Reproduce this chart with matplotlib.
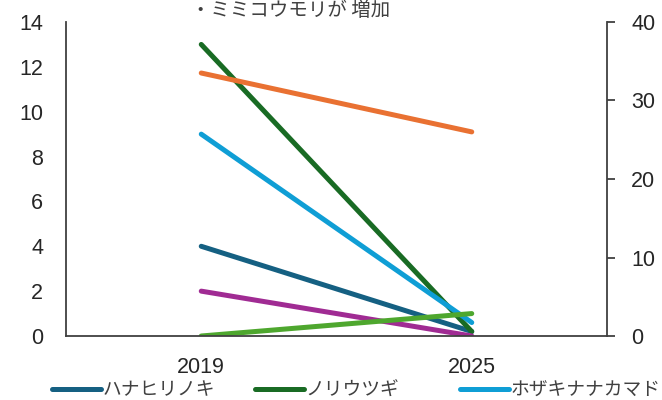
import numpy as np
import matplotlib.pyplot as plt

plt.rcParams['font.family'] = ['Noto Sans CJK JP', 'DejaVu Sans']

years = ['2019', '2025']

# primary (left) axis series
hanahirinoki = [4, 0.2]
noriutsugi = [13, 0.2]
hozakinanakamado = [9, 0.6]
purple_s = [2, 0]
green_s = [0, 1]
# secondary (right) axis series
orange_s = [33.5, 26]

c_dblue = '#156082'
c_orange = '#E97132'
c_dgreen = '#196B24'
c_lblue = '#0F9ED5'
c_purple = '#A02B93'
c_green = '#4EA72E'
axcol = '#404040'
numfont = ['Liberation Sans', 'DejaVu Sans']

fig = plt.figure(figsize=(6.62, 4.0), dpi=100)
ax = fig.add_axes([66/662, 1-336/400, (607-66)/662, (336-22)/400])
ax2 = ax.twinx()

x = np.arange(len(years))
lw = 3.6
l1, = ax.plot(x, hanahirinoki, color=c_dblue, lw=lw, solid_capstyle='round')
l3, = ax.plot(x, noriutsugi, color=c_dgreen, lw=lw, solid_capstyle='round')
l4, = ax.plot(x, hozakinanakamado, color=c_lblue, lw=lw, solid_capstyle='round')
ax.plot(x, purple_s, color=c_purple, lw=lw, solid_capstyle='round')
ax.plot(x, green_s, color=c_green, lw=lw, solid_capstyle='round')
ax2.plot(x, orange_s, color=c_orange, lw=lw, solid_capstyle='round')

ax.set_xlim(-0.5, 1.5)
ax.set_ylim(0, 14)
ax.set_yticks(range(0, 15, 2))
ax2.set_ylim(0, 40)
ax2.set_yticks(range(0, 41, 10))
ax.set_xticks(x)
ax.set_xticklabels(years)

for a in (ax, ax2):
    for s in a.spines.values():
        s.set_visible(False)
ax.spines['left'].set_visible(True)
ax.spines['bottom'].set_visible(True)
ax2.spines['right'].set_visible(True)
for s in (ax.spines['left'], ax.spines['bottom'], ax2.spines['right']):
    s.set_color(axcol)
    s.set_linewidth(1.3)

ax.tick_params(axis='y', length=0, pad=16.5, labelsize=15.5, colors='#262626')
ax.tick_params(axis='x', length=0, pad=15, labelsize=15.5, colors='#262626')
ax2.tick_params(axis='y', length=6, width=1.3, color=axcol, pad=11.5,
                labelsize=15.5, labelcolor='#262626')
for lab in ax.get_xticklabels() + ax.get_yticklabels() + ax2.get_yticklabels():
    lab.set_family(numfont)

fig.text(291/662, 1-10/400, '・ミミコウモリが 増加', ha='center', va='center',
         fontsize=14, color='#404040')

# legend, one entry per fixed-width slot (first row only visible)
entries = [(l1, 'ハナヒリノキ', 52), (l3, 'ノリウツギ', 255), (l4, 'ホザキナナカマド', 460)]
for h, lab, px in entries:
    leg = fig.legend([h], [lab], loc='center left', bbox_to_anchor=(px/662, 1-390/400),
                     frameon=False, fontsize=13.5, handlelength=2.6, handletextpad=0.1,
                     borderaxespad=0, borderpad=0)
    for t in leg.get_texts():
        t.set_color('#404040')

fig.savefig('out.png', dpi=100)
